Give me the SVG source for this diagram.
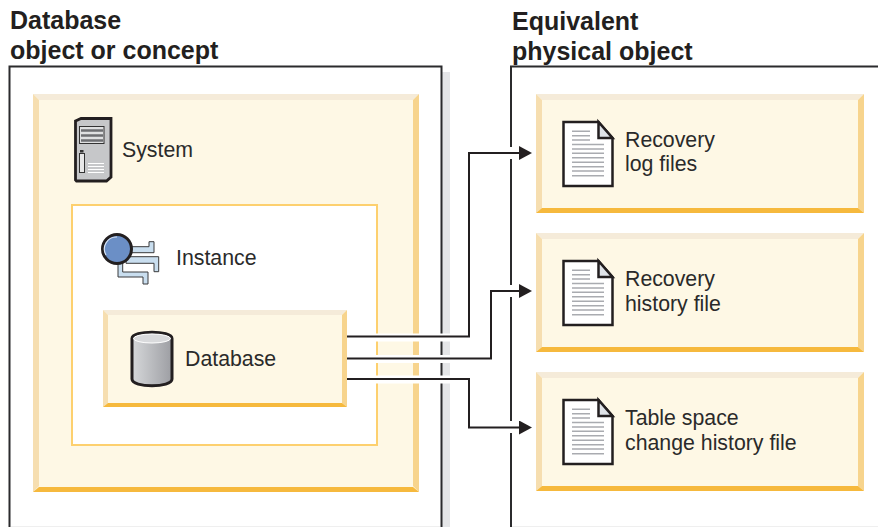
<svg xmlns="http://www.w3.org/2000/svg" width="878" height="527" viewBox="0 0 878 527">
<style>
text{font-family:"Liberation Sans",Arial,sans-serif;fill:#2a2a2a;font-size:21.3px}
.h{font-weight:bold;font-size:25px;fill:#231f20}
.frame{fill:#fff;stroke:#2b2b2d;stroke-width:2}
.halo{fill:none;stroke:#fff;stroke-width:8}
.wire{fill:none;stroke:#231f20;stroke-width:2}
.top{fill:#f5ebd9}.left{fill:#f6deb0}.right{fill:#f7d48d}.bot{fill:#f6b93d}.face{fill:#fef8e5}
.doc{fill:#fff;stroke:#231f20;stroke-width:2.5;stroke-linejoin:miter}
.fold{fill:#dfe3e8;stroke:#231f20;stroke-width:2.5}
.ln{stroke:#a9abb0;stroke-width:1.5;fill:none}
</style>
<defs>
<linearGradient id="cyl" x1="0" x2="1" y1="0" y2="0"><stop offset="0" stop-color="#d6d8da"/><stop offset="1" stop-color="#9d9ea3"/></linearGradient>
<marker id="arr" markerWidth="13" markerHeight="14" refX="1" refY="7" orient="auto" markerUnits="userSpaceOnUse"><path d="M0 0L13 7L0 14Z" fill="#231f20"/></marker>
<g id="bevel-doc">
<path class="doc" d="M1 1H36L50 17V65H1Z"/>
<path class="fold" d="M36 1V17H50Z"/>
<path class="ln" d="M9.500 10.300H27.500M9.500 14.700H27.500M9.500 19H27.500M9.500 23.400H41.500M9.500 28H41.500M9.500 32.300H41.500M9.500 36.700H41.500M9.500 41.300H41.500M9.500 45.700H41.500M9.500 50H41.500M9.500 54.700H41.500"/>
</g>
</defs>

<g id="shadow"><rect x="442" y="72" width="8" height="455" fill="#e5e6e8"/></g>

<g id="database-panel">
<text class="h" x="10" y="29">Database</text>
<text class="h" x="10" y="59">object or concept</text>
<rect class="frame" x="9.500" y="66.500" width="432" height="480"/>
</g>
<g id="physical-panel">
<text class="h" x="512" y="30">Equivalent</text>
<text class="h" x="512" y="60">physical object</text>
<rect class="frame" x="511" y="66.500" width="400" height="480"/>
</g>
<rect x="11" y="526" width="429" height="1" fill="#efefef"/>
<rect x="512" y="526" width="366" height="1" fill="#efefef"/>

<g id="system">
<rect class="face" x="33" y="94" width="386" height="398"/>
<path class="top" d="M33 94H419L413 100H39Z"/>
<path class="left" d="M33 94L39 100V486L33 492Z"/>
<path class="right" d="M419 94V492L413 486V100Z"/>
<path class="bot" d="M33 492L39 487H413L419 492Z"/>
<path d="M75.500 121L81 118.500H111V177L106.500 181H76.500L75.500 180Z" fill="#c6c7c9" stroke="#231f20" stroke-width="2.800"/>
<rect x="79.500" y="126.500" width="24.500" height="17" fill="#dfe0e1" stroke="#333" stroke-width="1"/>
<path d="M81 130.500H103M81 135.500H103M81 140.500H103" stroke="#6d6e71" stroke-width="2.500"/>
<rect x="80" y="150" width="3.500" height="2.500" fill="#333"/>
<rect x="79.500" y="153.500" width="5" height="19" fill="#e8e8e8" stroke="#333" stroke-width="1"/>
<path d="M88 163.500H104M88 166.500H104M88 169.500H104M88 172.500H104" stroke="#fff" stroke-width="1.200"/>
<text x="122" y="157">System</text>
</g>

<g id="instance">
<rect x="72" y="205" width="305" height="240" fill="#fff" stroke="#fdd06e" stroke-width="2"/>
<g fill="#c9deef" stroke="#3a3a3c" stroke-width="1">
<path d="M118 262H122.700V272H148V284H143V277H118Z"/>
<path d="M128 246.700H149V241.700H154V252.700H128Z"/>
<path d="M126 256.700H158.700V271.700H154V263.300H126Z"/>
</g>
<circle cx="117" cy="249" r="14.500" fill="#6b8fc6" stroke="#231f20" stroke-width="3"/>
<path d="M106 255A12 12 0 0 1 117 237" fill="none" stroke="#dbe5f3" stroke-width="1.200"/>
<text x="176" y="265">Instance</text>
</g>

<g id="database">
<rect class="face" x="103" y="310" width="244" height="97"/>
<path class="top" d="M103 310H347L342 315H108Z"/>
<path class="left" d="M103 310L108 315V403L103 407Z"/>
<path class="right" d="M347 310V407L342 403V315Z"/>
<path class="bot" d="M103 407L108 403H342L347 407Z"/>
<path d="M132 338.500C132 330 172 330 172 338.500V379C172 388 132 388 132 379Z" fill="url(#cyl)" stroke="#231f20" stroke-width="3"/>
<ellipse cx="152" cy="338.500" rx="18.500" ry="4.500" fill="#d9dadc" stroke="#fff" stroke-width="1"/>
<text x="185" y="366">Database</text>
</g>

<g id="log-files">
<rect class="face" x="536" y="94" width="328" height="119"/>
<path class="top" d="M536 94H864L858 100H542Z"/>
<path class="left" d="M536 94L542 100V208L536 213Z"/>
<path class="right" d="M864 94V213L858 208V100Z"/>
<path class="bot" d="M536 213L542 208H858L864 213Z"/>
<use href="#bevel-doc" x="562.500" y="121"/>
<text x="625" y="147">Recovery</text>
<text x="625" y="171">log files</text>
</g>

<g id="history-file">
<rect class="face" x="536" y="233" width="328" height="119"/>
<path class="top" d="M536 233H864L858 239H542Z"/>
<path class="left" d="M536 233L542 239V347L536 352Z"/>
<path class="right" d="M864 233V352L858 347V239Z"/>
<path class="bot" d="M536 352L542 347H858L864 352Z"/>
<use href="#bevel-doc" x="562.500" y="260"/>
<text x="625" y="286">Recovery</text>
<text x="625" y="311">history file</text>
</g>

<g id="tablespace-file">
<rect class="face" x="536" y="372" width="328" height="119"/>
<path class="top" d="M536 372H864L858 378H542Z"/>
<path class="left" d="M536 372L542 378V486L536 491Z"/>
<path class="right" d="M864 372V491L858 486V378Z"/>
<path class="bot" d="M536 491L542 486H858L864 491Z"/>
<use href="#bevel-doc" x="562.500" y="399"/>
<text x="625" y="425">Table space</text>
<text x="625" y="450">change history file</text>
</g>

<g id="connectors">
<path class="halo" d="M348 337.500H469V153H520"/>
<path class="halo" d="M348 359H491V291H520"/>
<path class="halo" d="M348 379.500H469V427.500H520"/>
<path class="halo" style="stroke-width:12" d="M505 153H517M505 291H517M505 427H517"/>
<path class="wire" marker-end="url(#arr)" d="M347 336.500H469V153H520"/>
<path class="wire" marker-end="url(#arr)" d="M347 358.500H491V291H520"/>
<path class="wire" marker-end="url(#arr)" d="M347 379H469V427.500H520"/>
</g>
</svg>
